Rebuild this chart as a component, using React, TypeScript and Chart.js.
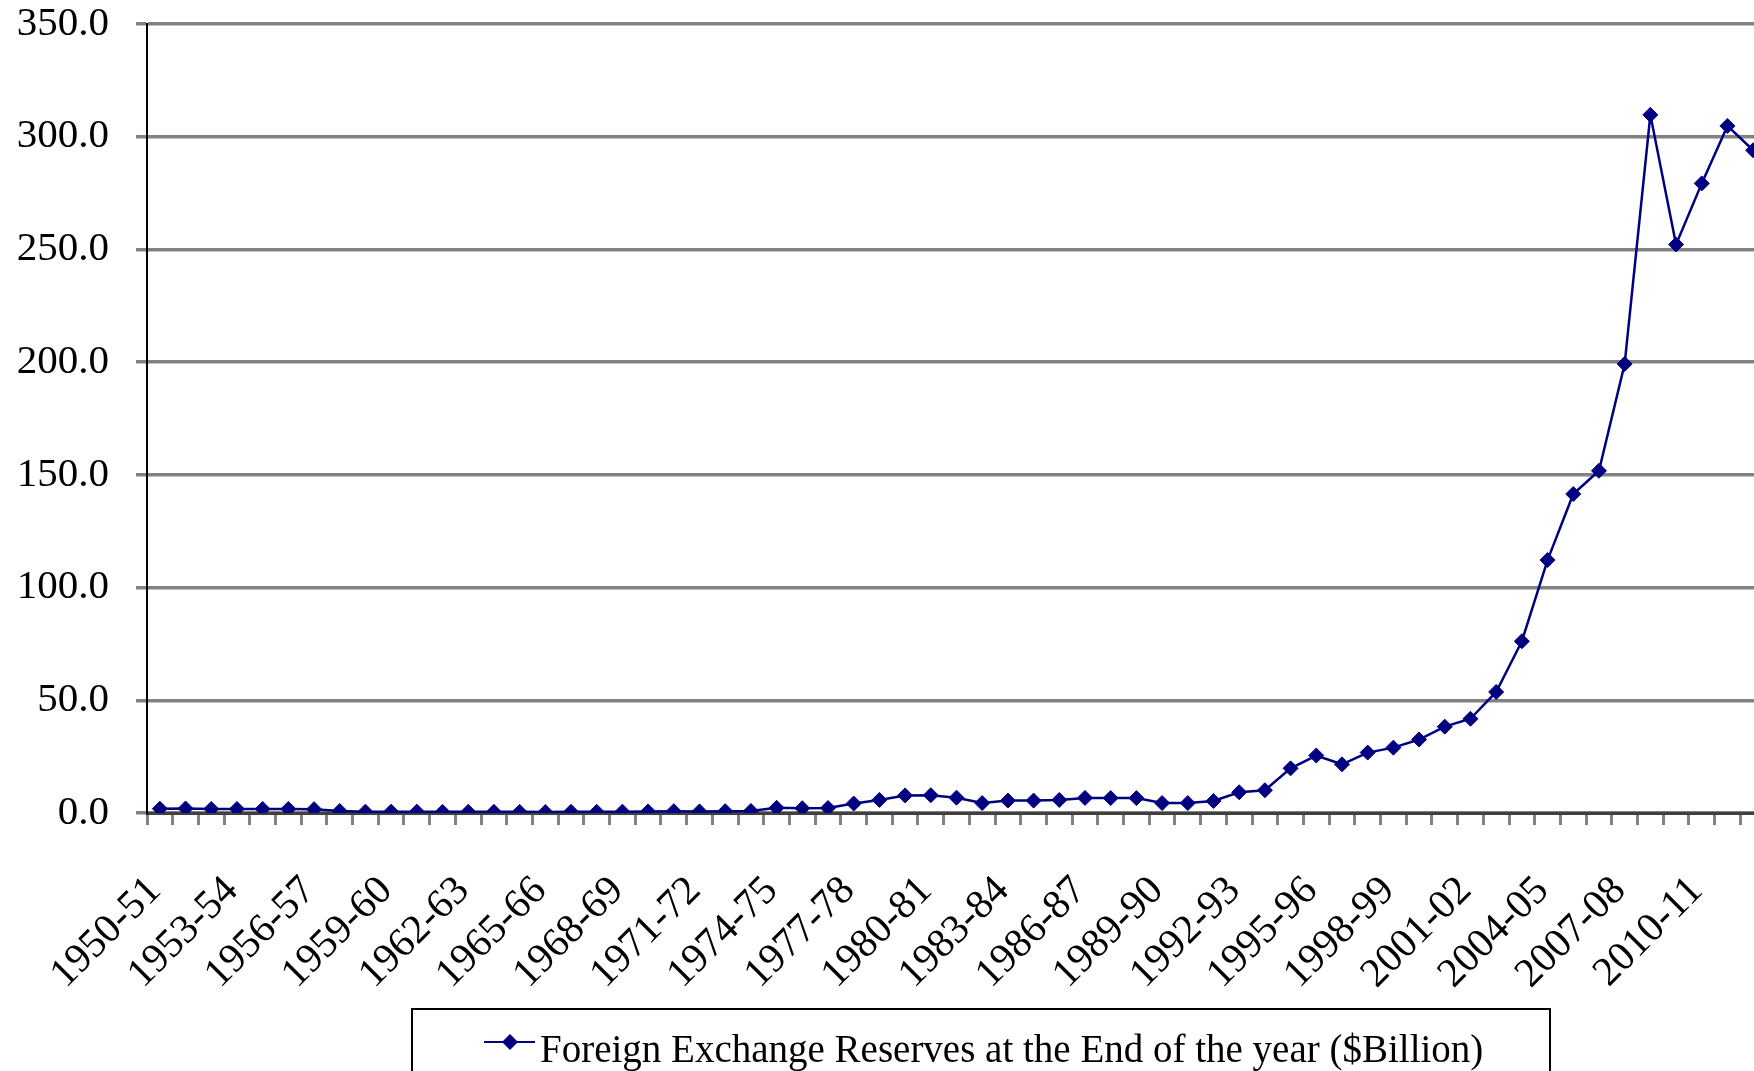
import React, { useEffect, useRef } from 'react';
import { Chart, registerables } from 'chart.js';

Chart.register(...registerables);

const categories: string[] = [
  '1950-51', '1951-52', '1952-53', '1953-54', '1954-55', '1955-56', '1956-57', '1957-58', '1958-59', '1959-60',
  '1960-61', '1961-62', '1962-63', '1963-64', '1964-65', '1965-66', '1966-67', '1967-68', '1968-69', '1969-70',
  '1970-71', '1971-72', '1972-73', '1973-74', '1974-75', '1975-76', '1976-77', '1977-78', '1978-79', '1979-80',
  '1980-81', '1981-82', '1982-83', '1983-84', '1984-85', '1985-86', '1986-87', '1987-88', '1988-89', '1989-90',
  '1990-91', '1991-92', '1992-93', '1993-94', '1994-95', '1995-96', '1996-97', '1997-98', '1998-99', '1999-00',
  '2000-01', '2001-02', '2002-03', '2003-04', '2004-05', '2005-06', '2006-07', '2007-08', '2008-09', '2009-10',
  '2010-11', '2011-12', '2012-13',
];

const reserves: number[] = [
  1.9, 2.0, 1.8, 1.8, 1.8, 1.8, 1.7, 0.9, 0.6, 0.6,
  0.6, 0.5, 0.5, 0.5, 0.5, 0.4, 0.5, 0.5, 0.6, 0.7,
  0.8, 0.7, 0.8, 0.9, 2.3, 2.1, 2.2, 4.2, 5.8, 7.8,
  7.9, 6.8, 4.4, 5.5, 5.5, 5.8, 6.7, 6.6, 6.6, 4.4,
  4.4, 5.3, 9.2, 10.1, 19.8, 25.5, 21.6, 26.8, 29.0, 32.6,
  38.3, 41.8, 53.7, 76.2, 112.2, 141.5, 151.8, 199.2, 309.7, 252.2,
  279.3, 304.8, 294.0,
];

const seriesLabel = 'Foreign Exchange Reserves at the End of the year ($Billion)';
const yMin = 0;
const yMax = 350;
const yStep = 50;
const labelEvery = 3;

const FONT = "'Liberation Serif', 'Times New Roman', Times, serif";
const NAVY = '#000080';
const GRID = '#828282';

export default function App() {
  const ref = useRef<HTMLCanvasElement>(null);

  useEffect(() => {
    const canvas = ref.current;
    if (!canvas) return;

    const boxLegend = {
      id: 'boxLegend',
      afterDraw(chart: any) {
        const ctx = chart.ctx as CanvasRenderingContext2D;
        const ds = chart.data.datasets[0];
        ctx.save();
        ctx.strokeStyle = '#000';
        ctx.lineWidth = 2;
        ctx.strokeRect(412, 1009, 1138, 120);
        ctx.strokeStyle = ds.borderColor;
        ctx.lineWidth = 2;
        ctx.beginPath();
        ctx.moveTo(484, 1042);
        ctx.lineTo(535, 1042);
        ctx.stroke();
        ctx.fillStyle = ds.pointBackgroundColor;
        ctx.beginPath();
        ctx.moveTo(502, 1042);
        ctx.lineTo(510, 1034);
        ctx.lineTo(518, 1042);
        ctx.lineTo(510, 1050);
        ctx.closePath();
        ctx.fill();
        ctx.fillStyle = '#000';
        ctx.font = `39px ${FONT}`;
        ctx.textAlign = 'left';
        ctx.textBaseline = 'alphabetic';
        ctx.fillText(ds.label, 540, 1062);
        ctx.restore();
      },
    };

    const chart = new Chart(canvas, {
      type: 'line',
      data: {
        labels: categories,
        datasets: [
          {
            label: seriesLabel,
            data: reserves,
            borderColor: NAVY,
            backgroundColor: NAVY,
            borderWidth: 2.5,
            pointStyle: 'rectRot',
            pointRadius: 7.5,
            pointBorderWidth: 1,
            pointBackgroundColor: NAVY,
            pointBorderColor: NAVY,
            tension: 0,
            fill: false,
          },
        ],
      },
      options: {
        animation: false,
        responsive: false,
        devicePixelRatio: 1,
        layout: { padding: { top: 0, right: 14, bottom: 0, left: 0 } },
        plugins: {
          legend: { display: false },
          tooltip: { enabled: false },
        },
        scales: {
          x: {
            type: 'category',
            offset: true,
            grid: {
              offset: true,
              drawOnChartArea: false,
              drawTicks: true,
              tickLength: 12,
              tickWidth: 3,
              tickColor: GRID,
            },
            border: { display: true, color: '#404040', width: 3 },
            ticks: {
              autoSkip: false,
              maxRotation: 45,
              minRotation: 45,
              padding: 42,
              labelOffset: -5,
              color: '#000',
              font: { family: FONT, size: 41 },
              callback: (_v: any, i: number) => (i % labelEvery === 0 ? categories[i] : ''),
            },
            afterFit: (scale: any) => {
              scale.height = 258;
              scale.paddingLeft = 0;
              scale.paddingRight = 0;
            },
          },
          y: {
            min: yMin,
            max: yMax,
            grid: {
              color: GRID,
              lineWidth: 3.5,
              drawTicks: true,
              tickLength: 11,
              tickWidth: 3.5,
              tickColor: GRID,
            },
            border: { display: true, color: '#000', width: 2 },
            ticks: {
              stepSize: yStep,
              padding: 27,
              color: '#000',
              font: { family: FONT, size: 41 },
              callback: (v: any) => Number(v).toFixed(1),
            },
            afterFit: (scale: any) => {
              scale.width = 147;
              scale.paddingTop = 24;
              scale.paddingBottom = 0;
            },
          },
        },
      },
      plugins: [boxLegend],
    });

    return () => chart.destroy();
  }, []);

  return (
    <div
      style={{
        position: 'fixed',
        left: 0,
        top: 0,
        width: 1754,
        height: 1071,
        overflow: 'hidden',
        background: '#fff',
      }}
    >
      <canvas ref={ref} width={1780} height={1071} style={{ display: 'block', width: 1780, height: 1071 }} />
    </div>
  );
}
